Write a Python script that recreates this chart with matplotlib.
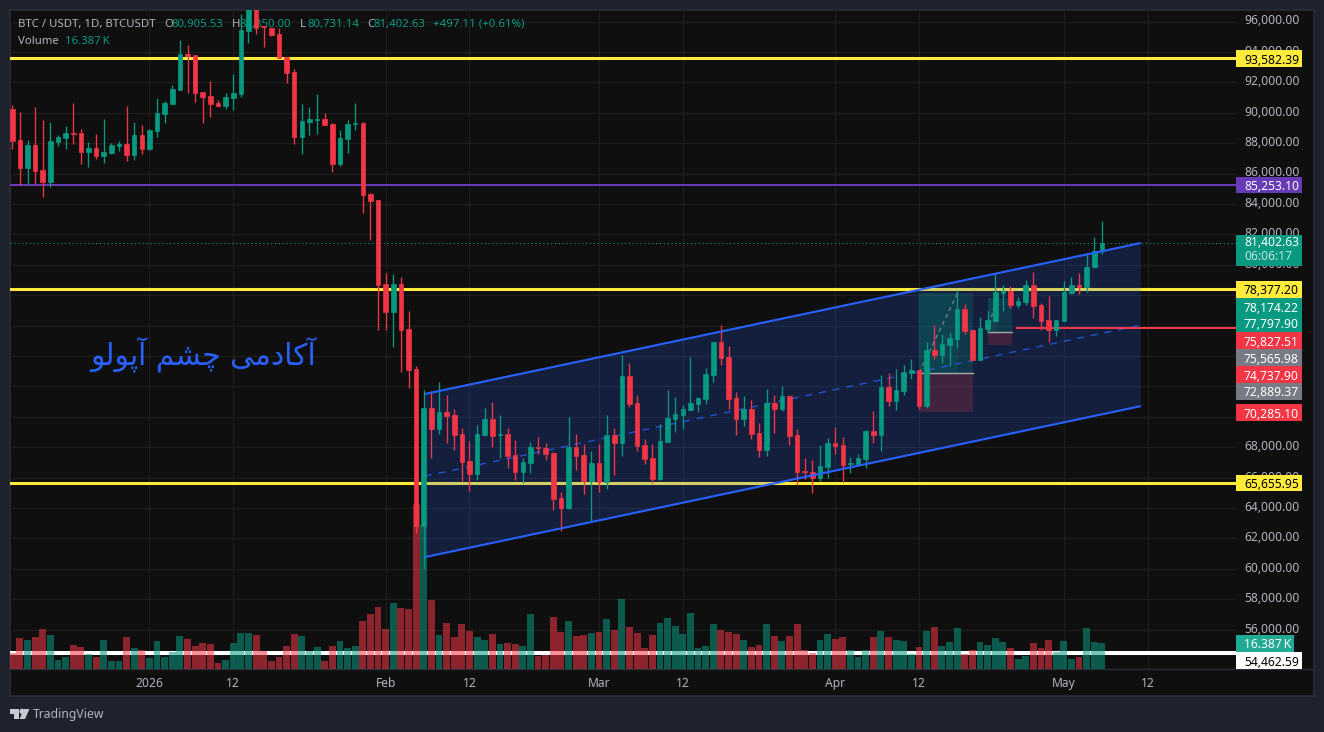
import numpy as np
import matplotlib
matplotlib.use('Agg')
import matplotlib.pyplot as plt
from matplotlib.patches import Rectangle, Polygon
from matplotlib.transforms import ScaledTranslation

# BTC/USDT daily candles, prices in thousands
opens = [90.15, 88.11, 86.26, 87.78, 86.13, 85.34, 87.97, 88.24, 88.57, 88.57, 87.32, 87.58,
         87.05, 87.25, 87.71, 87.84, 87.12, 88.43, 87.51, 88.70, 89.82, 90.47, 91.40, 93.76,
         93.70, 91.26, 91.00, 90.54, 90.34, 90.87, 91.13, 95.28, 97.30, 95.60, 95.47, 95.08,
         93.57, 92.58, 88.30, 89.29, 89.42, 89.49, 89.16, 86.53, 88.17, 89.16, 89.22, 84.55,
         84.16, 78.63, 76.79, 78.63, 75.67, 73.04, 62.71, 70.47, 69.09, 70.21, 70.01, 68.76,
         66.99, 66.13, 68.70, 69.75, 68.70, 68.76, 67.38, 66.26, 66.85, 67.91, 67.84, 67.51,
         64.55, 63.89, 67.91, 67.38, 65.67, 66.85, 65.60, 68.70, 68.17, 72.58, 70.80, 68.04,
         67.18, 65.80, 68.24, 69.75, 70.01, 70.34, 70.74, 71.07, 72.64, 74.82, 73.83, 71.13,
         69.75, 70.41, 68.83, 67.71, 70.80, 70.41, 71.26, 68.70, 66.33, 66.26, 65.87, 66.59,
         68.17, 68.04, 66.79, 66.79, 67.12, 68.96, 68.70, 71.86, 70.93, 71.59, 72.78, 72.97,
         70.60, 74.29, 73.96, 74.62, 75.01, 76.99, 75.61, 73.63, 75.67, 76.20, 78.04, 78.17,
         77.25, 77.45, 78.57, 77.25, 76.26, 75.61, 76.20, 78.04, 78.57, 78.44, 79.75, 80.81]
highs = [90.41, 89.95, 88.11, 90.28, 89.42, 89.29, 88.43, 89.03, 90.54, 88.83, 87.97, 88.50,
         89.49, 87.91, 88.04, 90.34, 89.29, 89.09, 88.83, 90.87, 90.67, 91.72, 94.68, 94.35,
         93.70, 91.26, 91.99, 90.74, 91.20, 92.45, 96.40, 98.00, 98.00, 95.61, 95.47, 95.45,
         93.59, 92.78, 90.47, 90.28, 91.13, 89.88, 89.22, 88.76, 89.42, 90.54, 89.29, 84.62,
         84.16, 79.36, 79.29, 79.09, 76.86, 73.24, 71.66, 71.59, 72.18, 71.33, 70.41, 69.16,
         68.30, 69.35, 70.47, 70.87, 70.01, 69.16, 68.37, 67.18, 68.24, 68.57, 68.17, 67.58,
         64.95, 69.88, 68.76, 68.10, 67.64, 68.10, 70.01, 69.16, 73.96, 73.44, 71.33, 68.43,
         68.10, 69.42, 71.66, 71.20, 70.67, 73.83, 71.20, 73.11, 74.82, 75.93, 74.55, 71.53,
         71.26, 71.00, 69.49, 71.72, 71.33, 71.92, 71.33, 69.09, 67.18, 67.05, 68.04, 68.50,
         69.22, 68.57, 67.25, 67.45, 69.03, 70.28, 72.64, 72.78, 73.04, 73.30, 73.70, 72.97,
         74.82, 75.93, 75.34, 75.47, 78.24, 77.32, 75.61, 76.46, 76.86, 79.29, 78.57, 78.50,
         77.78, 78.90, 79.42, 77.38, 77.84, 76.26, 78.83, 79.09, 79.36, 80.67, 81.72, 82.75]
lows = [87.51, 85.12, 85.21, 85.21, 84.38, 85.04, 87.71, 87.51, 87.84, 86.53, 86.33, 86.86,
        86.59, 87.18, 87.38, 86.72, 86.79, 87.18, 87.45, 88.30, 89.22, 90.47, 91.40, 91.20,
        90.61, 89.22, 89.62, 90.34, 90.15, 90.08, 90.93, 94.49, 95.08, 94.22, 94.95, 93.50,
        91.86, 87.84, 87.18, 88.43, 88.50, 89.09, 86.00, 86.40, 87.25, 88.76, 83.30, 81.53,
        75.61, 75.61, 74.49, 72.84, 71.79, 62.25, 59.88, 67.18, 68.76, 68.17, 67.71, 65.67,
        65.01, 65.74, 68.63, 67.91, 67.18, 66.53, 65.74, 65.54, 66.20, 67.45, 67.05, 63.76,
        62.38, 63.83, 66.39, 64.82, 62.97, 64.95, 65.15, 66.07, 67.32, 70.54, 67.64, 66.79,
        65.54, 65.74, 68.24, 68.89, 69.09, 70.28, 70.21, 70.74, 72.18, 73.30, 70.41, 68.70,
        69.29, 68.43, 67.25, 67.32, 68.83, 70.28, 68.04, 65.41, 65.80, 64.88, 65.67, 65.87,
        67.45, 65.60, 66.20, 66.72, 66.53, 68.17, 67.64, 70.60, 70.34, 71.33, 72.38, 70.41,
        70.47, 73.70, 73.43, 73.24, 74.41, 75.34, 73.63, 73.63, 75.41, 76.13, 76.86, 77.05,
        77.05, 77.25, 76.39, 75.61, 74.82, 75.21, 76.20, 77.97, 77.97, 78.11, 79.69, 80.63]
closes = [88.06, 86.26, 87.78, 86.07, 85.34, 88.04, 88.30, 88.57, 88.50, 87.32, 87.58, 87.05,
          87.32, 87.78, 87.84, 87.12, 88.43, 87.51, 88.76, 89.88, 90.54, 91.46, 93.76, 93.63,
          91.20, 90.93, 90.47, 90.34, 90.93, 91.20, 95.34, 97.30, 95.47, 95.55, 95.01, 93.50,
          92.51, 88.30, 89.36, 89.49, 89.49, 89.09, 86.53, 88.24, 89.16, 89.22, 84.49, 84.09,
          78.57, 76.79, 78.63, 75.61, 72.97, 62.71, 70.47, 69.09, 70.21, 69.95, 68.70, 66.92,
          66.13, 68.76, 69.75, 68.63, 68.76, 67.32, 66.26, 66.92, 67.91, 67.84, 67.45, 64.49,
          63.89, 67.91, 67.32, 65.67, 66.85, 65.60, 68.70, 68.17, 72.58, 70.74, 67.97, 67.12,
          65.80, 68.30, 69.82, 70.08, 70.41, 70.80, 71.13, 72.71, 74.82, 73.76, 71.07, 69.75,
          70.41, 68.76, 67.71, 70.80, 70.41, 71.26, 68.63, 66.26, 66.26, 65.87, 66.66, 68.17,
          67.97, 66.72, 66.85, 67.18, 68.96, 68.70, 71.86, 70.93, 71.66, 72.84, 72.97, 70.60,
          74.29, 73.96, 74.68, 75.08, 76.99, 75.54, 73.63, 75.74, 76.26, 78.11, 78.17, 77.25,
          77.51, 78.57, 77.18, 76.20, 75.61, 76.26, 78.11, 78.57, 78.44, 79.75, 80.80, 81.30]
# volume, in thousands of BTC
volumes = [10.2, 19.5, 18.3, 20.1, 25.1, 21.4, 5.8, 7.7, 15.1, 13.9, 9.5, 7.7,
           18.3, 5.2, 5.2, 20.1, 13.3, 12.0, 7.1, 17.6, 7.7, 10.8, 20.7, 18.9,
           14.5, 16.4, 15.8, 3.9, 5.8, 16.4, 22.6, 22.6, 21.4, 11.4, 5.2, 7.7,
           14.5, 22.0, 20.7, 11.4, 13.9, 5.2, 14.5, 17.6, 13.3, 14.5, 30.1, 34.4,
           38.8, 25.1, 41.3, 38.2, 37.5, 102.7, 89.6, 43.1, 21.4, 28.8, 20.1, 28.2,
           23.9, 20.1, 18.3, 22.0, 15.8, 16.4, 15.8, 14.5, 34.4, 8.3, 8.9, 32.6,
           23.2, 30.1, 20.7, 21.4, 22.6, 23.2, 31.3, 24.5, 43.8, 26.3, 22.6, 13.3,
           21.4, 28.8, 31.9, 27.0, 22.0, 35.1, 13.3, 14.5, 28.2, 24.5, 23.2, 22.0,
           18.3, 13.9, 15.1, 28.2, 20.7, 17.6, 20.7, 28.2, 12.0, 10.2, 18.3, 22.0,
           18.9, 20.1, 12.0, 7.7, 12.0, 20.1, 23.9, 20.1, 18.3, 17.6, 9.5, 13.9,
           23.9, 26.3, 14.5, 17.0, 25.7, 9.5, 12.0, 17.0, 15.1, 19.5, 17.0, 13.3,
           6.4, 8.3, 16.4, 13.3, 18.3, 10.8, 17.6, 6.4, 7.7, 25.7, 17.0, 16.4]

date_ticks = [18, 29, 49, 60, 77, 88, 108, 119, 138, 149]
date_labels = ['2026', '12', 'Feb', '12', 'Mar', '12', 'Apr', '12', 'May', '12']
price_ticks = list(range(56, 98, 2))
hidden_ticks = [70, 72, 74, 76, 78]  # fully under the price tags in the screenshot

yellow_levels = [93.58239, 78.3772, 65.65595]
purple_level = 85.2531
white_level = 54.46259
red_level = 75.82751
last_price = 81.40263

channel_x = [54.15, 148.1]
channel_top = [71.50, 81.43]
channel_mid = [66.10, 76.03]
channel_bottom = [60.77, 70.70]

# long position boxes: x0, x_now, x1, target, entry, stop
long_x0 = [119.0, 128.05]
long_xnow = [124.1, 129.1]
long_x1 = [126.1, 131.2]
long_target = [78.17422, 77.7979]
long_entry = [72.88937, 75.56598]
long_stop = [70.2851, 74.7379]

W, H = 1324, 732
GREEN = '#089981'
RED = '#f23645'
BLUE = '#2962ff'
YELLOW = '#ffeb3b'
AXIS = '#b2b5be'
PANE = '#0f0f0f'

plt.rcParams['font.family'] = ['Noto Sans', 'DejaVu Sans']


def box(x0, y0, x1, y1):
    # pixel box measured from the top left, as figure fraction
    return [x0 / W, 1 - y1 / H, (x1 - x0) / W, (y1 - y0) / H]


def tag(y0, y1, text, bg, fg='white', x1=1302, **kw):
    fig.add_artist(Rectangle((1236 / W, 1 - y1 / H), (x1 - 1236) / W, (y1 - y0) / H,
                             transform=fig.transFigure, fc=bg, ec='none', zorder=5))
    fig.text(1244 / W, 1 - (y0 + y1) / 2 / H, text, color=fg, fontsize=8.7, ha='left',
             va='center_baseline', zorder=6, **kw)


fig = plt.figure(figsize=(W / 100, H / 100), dpi=100, facecolor='#1e222d')

pane = fig.add_axes(box(10, 10, 1314, 696), facecolor=PANE)
pane.set_xticks([]); pane.set_yticks([])
for s in pane.spines.values():
    s.set_color('#2a2e39'); s.set_linewidth(1.2)
pane.plot([0, 1], [1 - 659 / 686] * 2, color='#2a2e39', lw=1, transform=pane.transAxes)

ax = fig.add_axes(box(10, 10, 1236, 669), facecolor='none')
y_top = 96.758
y_bot = 53.41
ax.set_xlim(-0.30, 160.6)
ax.set_ylim(y_bot, y_top)
for s in ax.spines.values():
    s.set_visible(False)

ax.yaxis.tick_right()
ax.set_yticks(price_ticks)
ax.set_yticklabels(['' if p in hidden_ticks else '%s,000.00' % p for p in price_ticks])
ax.set_xticks(date_ticks)
ax.set_xticklabels(date_labels)
ax.tick_params(length=0, labelsize=8.7, labelcolor=AXIS)
ax.tick_params(axis='y', pad=5.8)
ax.tick_params(axis='x', pad=5.5)
shift = ScaledTranslation(0, 1.5 / 72, fig.dpi_scale_trans)
for lb in ax.get_yticklabels():
    lb.set_transform(lb.get_transform() + shift)
ax.grid(color='#1e1e1e', lw=0.9)
ax.set_axisbelow(True)

x = np.arange(len(opens))
# readings came out about 100 USD low against the price scale
o = np.array(opens) + 0.1
h = np.array(highs) + 0.1
l = np.array(lows) + 0.1
c = np.array(closes) + 0.1
v = np.array(volumes)
up = c >= o
colors = np.where(up, GREEN, RED)

# white line sits under the translucent volume bars
ax.axhline(white_level, color='white', lw=2.9, zorder=1.5)
vol_scale = 0.1057  # price units per 1K volume
ax.bar(x, v * vol_scale, bottom=y_bot, width=0.9, color=colors, alpha=0.55, lw=0, zorder=1.8)

for lv in yellow_levels:
    ax.axhline(lv, color=YELLOW, lw=2.2, zorder=2)
ax.axhline(purple_level, color='#673ab7', lw=1.45, zorder=2)
ax.axhline(last_price, color=GREEN, lw=0.8, ls=(0, (1, 2.5)), zorder=2)

ax.add_patch(Polygon([(channel_x[0], channel_top[0]), (channel_x[1], channel_top[1]),
                      (channel_x[1], channel_bottom[1]), (channel_x[0], channel_bottom[0])],
                     fc=BLUE, alpha=0.2, ec='none', zorder=2.5))

for i in range(len(long_x0)):
    w = long_x1[i] - long_x0[i]
    ax.add_patch(Rectangle((long_x0[i], long_entry[i]), w, long_target[i] - long_entry[i],
                           fc=GREEN, alpha=0.2, ec='none', zorder=2.6))
    ax.add_patch(Rectangle((long_x0[i], long_entry[i]), long_xnow[i] - long_x0[i],
                           long_target[i] - long_entry[i], fc=GREEN, alpha=0.12, ec='none', zorder=2.6))
    ax.add_patch(Rectangle((long_x0[i], long_stop[i]), w, long_entry[i] - long_stop[i],
                           fc=RED, alpha=0.2, ec='none', zorder=2.6))
    ax.plot([long_x0[i], long_x1[i]], [long_entry[i]] * 2, color='#a8a8a8', lw=1, zorder=2.7)
    ax.plot([long_x0[i], long_xnow[i]], [long_entry[i], long_target[i]], color='#a8a8a8',
            lw=1, ls=(0, (3, 2.5)), alpha=0.6, zorder=2.7)

ax.plot(channel_x, channel_mid, color=BLUE, lw=1, ls=(0, (5, 5)), alpha=0.75, zorder=2.8)

ax.plot([131.9, 160.6], [red_level, red_level], color=RED, lw=1.45, zorder=3)

ax.vlines(x, l, h, colors=colors, lw=0.95, zorder=4)
ax.bar(x, np.abs(c - o), bottom=np.minimum(o, c), width=0.6, color=colors,
       edgecolor=colors, lw=0.5, zorder=4.1)

ax.plot(channel_x, channel_top, color=BLUE, lw=1.5, zorder=4.5, solid_capstyle='butt')
ax.plot(channel_x, channel_bottom, color=BLUE, lw=1.5, zorder=4.5, solid_capstyle='butt')

# matplotlib does not shape Arabic script, so the phrase is in presentation forms, visual order
watermark = '\ufeee\ufedf\ufeee\ufb58\ufe81 \ufee2\ufeb8\ufb7c \ufbfd\ufee3\ufea9\ufe8e\ufb90\ufe81'
fig.text(203 / W, 1 - 355 / H, watermark, color=BLUE, fontsize=21.4, ha='center', va='center',
         family='DejaVu Sans', zorder=1)


# legend, behind the candles as in the screenshot
def legend(px, py, text, color):
    ax.text(px / W, 1 - py / H, text, color=color, fontsize=8.2, ha='left', va='center',
            transform=fig.transFigure, zorder=1)


legend(18, 24.5, 'BTC / USDT, 1D, BTCUSDT', AXIS)
legend(164, 24.5, 'O', AXIS)
legend(172, 24.5, '80,905.53', GREEN)
legend(232, 24.5, 'H', AXIS)
legend(240, 24.5, '82,850.00', GREEN)
legend(300, 24.5, 'L', AXIS)
legend(307, 24.5, '80,731.14', GREEN)
legend(367, 24.5, 'C', AXIS)
legend(374, 24.5, '81,402.63', GREEN)
legend(433, 24.5, '+497.11 (+0.61%)', GREEN)
legend(18, 42, 'Volume', AXIS)
legend(65, 42, '16.387\u2009K', GREEN)

# price scale tags
tag(50, 67, '93,582.39', YELLOW, 'black')
tag(177, 193, '85,253.10', '#673ab7')
tag(281, 298, '78,377.20', YELLOW, 'black')
tag(298, 315, '78,174.22', GREEN)
tag(315, 332, '77,797.90', GREEN)
tag(332, 349, '75,827.51', RED)
tag(349, 366, '75,565.98', '#787b86')
tag(366, 383, '74,737.90', RED)
tag(383, 399.5, '72,889.37', '#787b86')
tag(404, 421, '70,285.10', RED)
tag(475, 491, '65,655.95', YELLOW, 'black')
tag(635, 652, '16.387\u2009K', '#22ab94', x1=1294)
tag(652, 669, '54,462.59', 'white', 'black')
fig.add_artist(Rectangle((1236 / W, 1 - 265.7 / H), 66 / W, 30.7 / H, transform=fig.transFigure,
                         fc=GREEN, ec='none', zorder=5))
fig.text(1244 / W, 1 - 242.5 / H, '81,402.63', color='white', fontsize=8.7, va='center', zorder=6)
fig.text(1244 / W, 1 - 257 / H, '06:06:17', color='#c4e4de', fontsize=8.7, va='center', zorder=6)

# TradingView mark and name
mark = dict(transform=fig.transFigure, fc='#c8cad2', ec='none')
fig.add_artist(Polygon([(10 / W, 1 - 709 / H), (19 / W, 1 - 709 / H), (19 / W, 1 - 719 / H),
                        (13.5 / W, 1 - 719 / H), (13.5 / W, 1 - 713.5 / H), (10 / W, 1 - 713.5 / H)], **mark))
fig.add_artist(Polygon([(24 / W, 1 - 709 / H), (29.5 / W, 1 - 709 / H), (25 / W, 1 - 719 / H),
                        (19.5 / W, 1 - 719 / H)], **mark))
fig.text(21.5 / W, 1 - 711 / H, '\u25cf', color='#c8cad2', fontsize=5, ha='center', va='center')
fig.text(33 / W, 1 - 714.5 / H, 'TradingView', color=AXIS, fontsize=8.8, va='center')

fig.savefig('out.png', dpi=100, facecolor=fig.get_facecolor())
